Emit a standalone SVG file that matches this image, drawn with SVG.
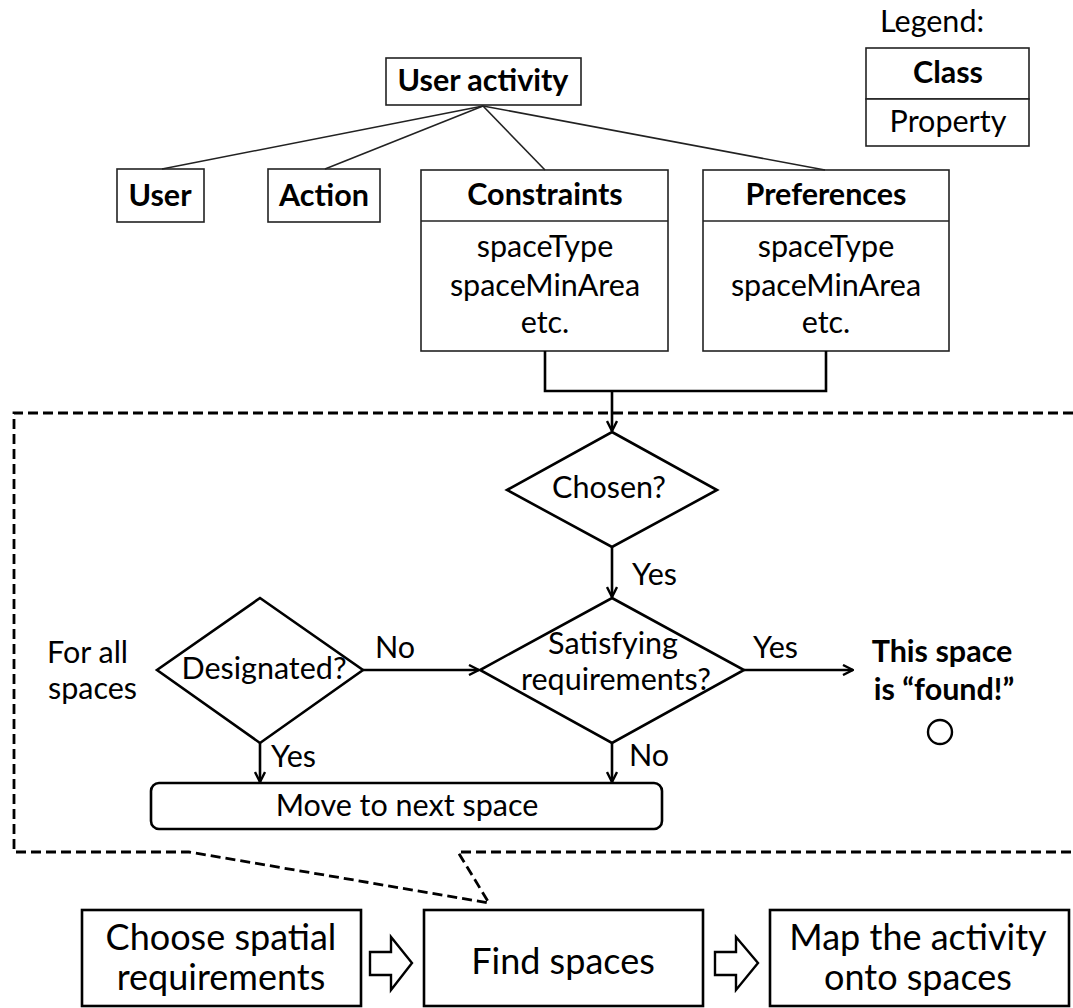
<svg xmlns="http://www.w3.org/2000/svg" width="1073" height="1008" viewBox="0 0 1073 1008">
  <style>
    text { font-family: Lato, "Liberation Sans", sans-serif; fill: #000; }
    .t { font-size: 30.5px; }
    .b { font-size: 30.5px; font-weight: bold; }
    .big { font-size: 36px; }
    .c { text-anchor: middle; }
    .cls { fill: #fff; stroke: #222; stroke-width: 1.6; }
    .flow { fill: #fff; stroke: #000; stroke-width: 2.6; stroke-linejoin: miter; }
    .thin { fill: none; stroke: #222; stroke-width: 1.6; }
    .wire { fill: none; stroke: #000; stroke-width: 2.6; }
    .dash { fill: none; stroke: #000; stroke-width: 2.8; stroke-dasharray: 10 5; }
    .blk { fill: #fff; stroke: #000; stroke-width: 2.4; stroke-linejoin: miter; }
  </style>
  <defs>
    <marker id="arr" viewBox="0 0 12 12" refX="11" refY="6" markerWidth="12" markerHeight="12" markerUnits="userSpaceOnUse" orient="auto">
      <path d="M1,1 L11,6 L1,11" fill="none" stroke="#000" stroke-width="2.4"/>
    </marker>
  </defs>

  <!-- legend -->
  <g id="legend">
    <text class="t" x="880" y="32">Legend:</text>
    <rect class="cls" x="866" y="48" width="163" height="51"/>
    <rect class="cls" x="866" y="99" width="163" height="47"/>
    <text class="b c" x="948" y="83">Class</text>
    <text class="t c" x="948" y="132">Property</text>
  </g>

  <!-- class hierarchy -->
  <g id="user-activity">
    <rect class="cls" x="386" y="58" width="195" height="47"/>
    <text class="b c" x="483" y="91">User activity</text>
  </g>
  <g id="user">
    <rect class="cls" x="117" y="169" width="87" height="53"/>
    <text class="b c" x="160" y="206">User</text>
  </g>
  <g id="action">
    <rect class="cls" x="268" y="169" width="112" height="53"/>
    <text class="b c" x="324" y="206">Action</text>
  </g>
  <g id="constraints">
    <rect class="cls" x="421" y="170" width="247" height="181"/>
    <line class="thin" x1="421" y1="221" x2="668" y2="221"/>
    <text class="b c" x="545" y="205">Constraints</text>
    <text class="t c" x="545" y="257">spaceType</text>
    <text class="t c" x="545" y="296">spaceMinArea</text>
    <text class="t c" x="545" y="333">etc.</text>
  </g>
  <g id="preferences">
    <rect class="cls" x="703" y="170" width="246" height="181"/>
    <line class="thin" x1="703" y1="221" x2="949" y2="221"/>
    <text class="b c" x="826" y="205">Preferences</text>
    <text class="t c" x="826" y="257">spaceType</text>
    <text class="t c" x="826" y="296">spaceMinArea</text>
    <text class="t c" x="826" y="333">etc.</text>
  </g>

  <!-- "find spaces" detail frame -->
  <path id="detail-frame" class="dash" d="M1073,413 H14 V852 H189 L489,903 L458,852 H1073"/>

  <!-- decision flow -->
  <g id="chosen">
    <polygon class="flow" points="612,432 717,490 612,547 507,490"/>
    <text class="t c" x="609" y="498">Chosen?</text>
  </g>
  <g id="satisfying">
    <polygon class="flow" points="612,598 744,670 612,743 480,670"/>
    <text class="t c" x="613" y="654">Satisfying</text>
    <text class="t c" x="616" y="690">requirements?</text>
  </g>
  <g id="designated">
    <polygon class="flow" points="260,598 363,670 260,743 157,670"/>
    <text class="t c" x="264" y="679">Designated?</text>
  </g>
  <g id="for-all">
    <text class="t" x="47" y="663">For all</text>
    <text class="t" x="48" y="699">spaces</text>
  </g>
  <g id="found">
    <text class="b c" x="942" y="662">This space</text>
    <text class="b c" x="944" y="700">is “found!”</text>
    <circle cx="940" cy="732" r="12" fill="none" stroke="#000" stroke-width="2.4"/>
  </g>
  <g id="next-space">
    <rect class="flow" x="151" y="783" width="511" height="46" rx="8"/>
    <text class="t c" x="407" y="816">Move to next space</text>
  </g>

  <!-- process steps -->
  <g id="choose-requirements">
    <rect class="flow" x="82" y="910" width="279" height="96"/>
    <text class="big c" x="221" y="950">Choose spatial</text>
    <text class="big c" x="221" y="990">requirements</text>
  </g>
  <g id="find-spaces">
    <rect class="flow" x="424" y="910" width="279" height="96"/>
    <text class="big c" x="563" y="974">Find spaces</text>
  </g>
  <g id="map-activity">
    <rect class="flow" x="770" y="910" width="299" height="96"/>
    <text class="big c" x="918" y="950">Map the activity</text>
    <text class="big c" x="918" y="990">onto spaces</text>
  </g>

  <g id="connectors">
    <!-- composition lines -->
    <line class="thin" x1="483" y1="106" x2="162" y2="169"/>
    <line class="thin" x1="483" y1="106" x2="325" y2="169"/>
    <line class="thin" x1="483" y1="106" x2="545" y2="170"/>
    <line class="thin" x1="483" y1="106" x2="825" y2="170"/>
    <!-- requirements feed into the flow -->
    <path class="wire" d="M545,351 V391 H826 V351"/>
    <path class="wire" d="M612,391 V431" marker-end="url(#arr)"/>
    <path class="wire" d="M612,547 V597" marker-end="url(#arr)"/>
    <path class="wire" d="M363,670 H479" marker-end="url(#arr)"/>
    <path class="wire" d="M744,670 H853" marker-end="url(#arr)"/>
    <path class="wire" d="M260,743 V782" marker-end="url(#arr)"/>
    <path class="wire" d="M612,743 V782" marker-end="url(#arr)"/>
    <!-- hollow step arrows -->
    <polygon class="blk" points="370,952 391,952 391,937 412,963 391,990 391,975 370,975"/>
    <polygon class="blk" points="715,952 736,952 736,937 758,963 736,990 736,975 715,975"/>
    <!-- flow labels -->
    <text class="t" x="632" y="585">Yes</text>
    <text class="t" x="375" y="658">No</text>
    <text class="t" x="753" y="658">Yes</text>
    <text class="t" x="271" y="767">Yes</text>
    <text class="t" x="629" y="766">No</text>
  </g>
</svg>
